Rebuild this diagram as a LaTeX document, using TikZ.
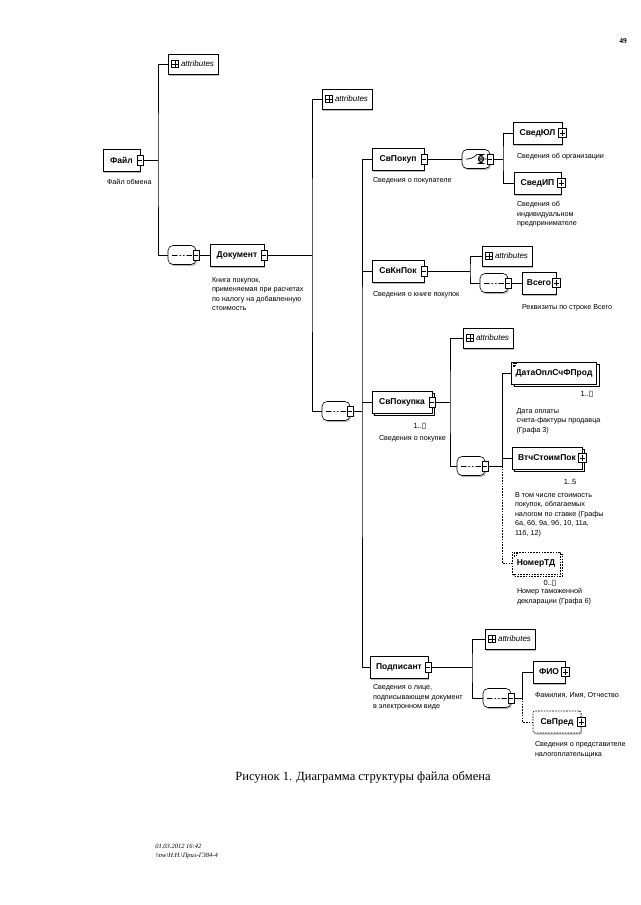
\documentclass[tikz,border=0pt]{standalone}
\usepackage{fontspec}
\setmainfont{Liberation Serif}
\setsansfont{Liberation Sans}
\newfontfamily\symfont{DejaVu Sans}
\usetikzlibrary{positioning,calc,shapes.misc,shadows}
\newcommand{\infbox}{{\symfont\fontsize{8}{8}\selectfont ▯}}

\begin{document}
\begin{tikzpicture}[x=1pt,y=-1pt,line width=0.6pt,
elem/.style={draw,fill=white,minimum height=22pt,inner xsep=4pt,
  font=\sffamily\bfseries\fontsize{8.5}{9}\selectfont,
  drop shadow={shadow xshift=1.2pt,shadow yshift=-1.5pt,fill=black!45,opacity=.6}},
stack/.style={elem,copy shadow={shadow xshift=2.5pt,shadow yshift=-2.5pt}},
opt/.style={dash pattern=on 1.6pt off 1.2pt},
txt/.style={path picture={\draw[line width=0.4pt]
  ($(path picture bounding box.north west)+(1.5,1.6)$)--+(4,0)
  ($(path picture bounding box.north west)+(1.5,3.1)$)--+(3,0)
  ($(path picture bounding box.north west)+(1.5,4.6)$)--+(2,0);}},
mcon/.style={draw,fill=white,line width=0.5pt,minimum width=6.5pt,minimum height=10pt,inner sep=0pt,
  path picture={\draw[line width=0.5pt]
  ($(path picture bounding box.west)+(1.3,0)$)--($(path picture bounding box.east)+(-1.3,0)$);}},
pcon/.style={draw,fill=white,line width=0.5pt,minimum width=7.5pt,minimum height=9pt,inner sep=0pt,
  path picture={\draw[line width=0.5pt]
  ($(path picture bounding box.west)+(1.2,0)$)--($(path picture bounding box.east)+(-1.2,0)$)
  ($(path picture bounding box.north)+(0,1.2)$)--($(path picture bounding box.south)+(0,-1.2)$);}},
comp/.style={draw,fill=white,rounded corners=5pt,minimum width=28pt,minimum height=19pt,inner sep=0pt,
  drop shadow={shadow xshift=1.2pt,shadow yshift=-1.5pt,fill=black!45,opacity=.6}},
seqsym/.style={path picture={\coordinate (pc) at (path picture bounding box.center);
  \draw[line width=0.8pt] ($(pc)+(-10,0)$)--+(20,0);
  \foreach \dx in {-3.5,0,3.5} \fill ($(pc)+(\dx,0)$) circle (1.4pt);}},
choicesym/.style={path picture={\coordinate (pc) at (path picture bounding box.center);
  \draw[line width=0.7pt] ($(pc)+(-10,0)$)--++(6,0)--++(5,-4.5)
  ($(pc)+(2.5,-4.5)$) rectangle ++(5,9)
  ($(pc)+(2.5,0)$)--++(8,0) ($(pc)+(5,-4.5)$)--++(0,9);}},
attr/.style={draw,fill=white,minimum height=20pt,minimum width=50pt,inner xsep=3pt,
  font=\sffamily\itshape\fontsize{8}{9}\selectfont,
  drop shadow={shadow xshift=1.2pt,shadow yshift=-1.5pt,fill=black!45,opacity=.6},
  path picture={\draw[line width=0.5pt]
  ($(path picture bounding box.west)+(3.5,-3.5)$) rectangle +(7,7)
  ($(path picture bounding box.west)+(3.5,0)$)--+(7,0)
  ($(path picture bounding box.west)+(7,-3.5)$)--+(0,7);}},
note/.style={font=\sffamily\fontsize{7.2}{9.4}\selectfont,align=left,anchor=north west,inner sep=0pt},
mult/.style={font=\sffamily\fontsize{7.5}{8}\selectfont,inner sep=0pt}
]
\useasboundingbox (0,0) rectangle (640,905);
\node[font=\bfseries\fontsize{7.5}{8}\selectfont] (pnum) at (623,41) {49};

% Файл
\node[elem,minimum width=37pt] (fajl) at (121.5,160) {Файл};
\node[mcon] (fajlC) at (fajl.east) {};
\node[note] (fajlN) at ([xshift=4pt,yshift=-8pt]fajl.south west) {Файл обмена};
\node[attr] (attr1) at (193,64) {\hspace*{9pt}attributes};
\node[comp,seqsym] (seq1) at (182,255) {};
\node[mcon] (seq1C) at (seq1.east) {};
\coordinate (s1) at (158,160);
\draw (attr1.west) -| (s1) |- (seq1.west);
\draw (fajlC.east) -- (s1);

% Документ
\node[elem,minimum width=54pt] (dok) at (237,255) {Документ};
\node[mcon] (dokC) at (dok.east) {};
\node[note] (dokN) at ([xshift=2pt,yshift=-11pt]dok.south west) {Книга покупок,\\применяемая при расчетах\\по налогу на добавленную\\стоимость};
\draw (seq1C.east) -- (dok.west);
\node[attr] (attr2) at (347,99) {\hspace*{9pt}attributes};
\node[comp,seqsym] (seq2) at (336,411) {};
\node[mcon] (seq2C) at (seq2.east) {};
\coordinate (s2) at (312,255);
\draw (attr2.west) -| (s2) |- (seq2.west);
\draw (dokC.east) -- (s2);

% СвПокуп
\node[elem,minimum width=52pt] (svpokup) at (398,159) {СвПокуп};
\node[mcon] (svpokupC) at (svpokup.east) {};
\node[note] (svpokupN) at ([xshift=1pt,yshift=-7pt]svpokup.south west) {Сведения о покупателе};
\node[comp,choicesym] (choice) at (476,159) {};
\node[mcon] (choiceC) at (choice.east) {};
\draw (svpokupC.east) -- (choice.west);
\node[elem,minimum width=49pt] (svedUL) at (537.5,133) {СведЮЛ};
\node[pcon] (svedULC) at (svedUL.east) {};
\node[note] (svedULN) at ([xshift=4pt,yshift=-9pt]svedUL.south west) {Сведения об организации};
\node[elem,minimum width=47pt] (svedIP) at (537.5,183) {СведИП};
\node[pcon] (svedIPC) at (svedIP.east) {};
\node[note] (svedIPN) at ([xshift=3pt,yshift=-7pt]svedIP.south west) {Сведения об\\индивидуальном\\предпринимателе};
\coordinate (s4) at (503,159);
\draw (svedUL.west) -| (s4) |- (svedIP.west);
\draw (choiceC.east) -- (s4);

% СвКнПок
\node[elem,minimum width=52pt] (svknpok) at (398,271) {СвКнПок};
\node[mcon] (svknpokC) at (svknpok.east) {};
\node[note] (svknpokN) at ([xshift=1pt,yshift=-9pt]svknpok.south west) {Сведения о книге покупок};
\node[attr] (attr3) at (507,256) {\hspace*{9pt}attributes};
\node[comp,seqsym] (seq3) at (494,283) {};
\node[mcon] (seq3C) at (seq3.east) {};
\node[elem,minimum width=34pt] (vsego) at (539,283) {Всего};
\node[pcon] (vsegoC) at (vsego.east) {};
\node[note] (vsegoN) at ([xshift=0pt,yshift=-10pt]vsego.south west) {Реквизиты по строке Всего};
\coordinate (s5) at (470,271);
\draw (attr3.west) -| (s5) |- (seq3.west);
\draw (svknpokC.east) -- (s5);
\draw (seq3C.east) -- (vsego.west);

% СвПокупка
\node[stack,minimum width=60pt] (svpokupka) at (402,402) {СвПокупка};
\node[mcon] (svpokupkaC) at (svpokupka.east) {};
\node[mult] (svpokupkaM) at (420,426) {1..\infbox};
\node[note] (svpokupkaN) at ([xshift=7pt,yshift=-22pt]svpokupka.south west) {Сведения о покупке};
\node[attr] (attr4) at (488,338) {\hspace*{9pt}attributes};
\node[comp,seqsym] (seq4) at (471,466) {};
\node[mcon] (seq4C) at (seq4.east) {};
\coordinate (s6) at (450,402);
\draw (attr4.west) -| (s6) |- (seq4.west);
\draw (svpokupkaC.east) -- (s6);

\node[stack,txt,minimum width=84pt] (dataopl) at (554,373) {ДатаОплСчФПрод};
\node[mult] (dataoplM) at (587,394) {1..\infbox};
\node[note] (dataoplN) at ([xshift=5pt,yshift=-24pt]dataopl.south west) {Дата оплаты\\счета-фактуры продавца\\(Графа 3)};
\node[stack,minimum width=70pt] (vtch) at (547,458) {ВтчСтоимПок};
\node[pcon] (vtchC) at (vtch.east) {};
\node[mult] (vtchM) at (570,482) {1..5};
\node[note] (vtchN) at ([xshift=3pt,yshift=-23pt]vtch.south west) {В том числе стоимость\\покупок, облагаемых\\налогом по ставке (Графы\\6а, 6б, 9а, 9б, 10, 11а,\\11б, 12)};
\node[stack,opt,txt,minimum width=48pt] (nomerTD) at (536,563) {НомерТД};
\node[mult] (nomerTDM) at (550,583) {0..\infbox};
\node[note] (nomerTDN) at ([xshift=5pt,yshift=-14pt]nomerTD.south west) {Номер таможенной\\декларации (Графа 6)};
\coordinate (s7) at (502,466);
\draw (dataopl.west) -| (s7);
\draw (vtch.west) -- (vtch.west -| s7);
\draw (seq4C.east) -- (s7);
\draw[opt] (s7) |- (nomerTD.west);

% Подписант
\node[elem,minimum width=58pt] (podp) at (399,667) {Подписант};
\node[mcon] (podpC) at (podp.east) {};
\node[note] (podpN) at ([xshift=3pt,yshift=-6pt]podp.south west) {Сведения о лице,\\подписывающем документ\\в электронном виде};
\coordinate (s3) at (362,411);
\draw (svpokup.west) -| (s3) |- (podp.west);
\draw (svknpok.west) -- (svknpok.west -| s3);
\draw (svpokupka.west) -- (svpokupka.west -| s3);
\draw (seq2C.east) -- (s3);
\node[attr] (attr5) at (510,639) {\hspace*{9pt}attributes};
\node[comp,seqsym] (seq5) at (497,698) {};
\node[mcon] (seq5C) at (seq5.east) {};
\coordinate (s8) at (472,667);
\draw (attr5.west) -| (s8) |- (seq5.west);
\draw (podpC.east) -- (s8);
\node[elem,minimum width=32pt] (fio) at (549,672) {ФИО};
\node[pcon] (fioC) at (fio.east) {};
\node[note] (fioN) at ([xshift=2pt,yshift=-9pt]fio.south west) {Фамилия, Имя, Отчество};
\node[elem,opt,rounded corners=2pt,minimum width=48pt] (svpred) at (557,722) {СвПред};
\node[pcon] (svpredC) at (svpred.east) {};
\node[note] (svpredN) at ([xshift=2pt,yshift=-8pt]svpred.south west) {Сведения о представителе\\налогоплательщика};
\coordinate (s9) at (522,698);
\draw (fio.west) -| (s9);
\draw (seq5C.east) -- (s9);
\draw[opt] (s9) |- (svpred.west);

% подпись и колонтитул
\node[font=\fontsize{12.5}{14}\selectfont] (cap) at (363,777) {Рисунок 1. Диаграмма структуры файла обмена};
\node[font=\itshape\fontsize{6.5}{8.5}\selectfont,align=left,anchor=north west,inner sep=0pt] (foot) at (155,844) {01.03.2012 16:42\\\textbackslash\textbackslash nw\textbackslash Н.Н.\textbackslash Прил-Г384-4};
\end{tikzpicture}
\end{document}
